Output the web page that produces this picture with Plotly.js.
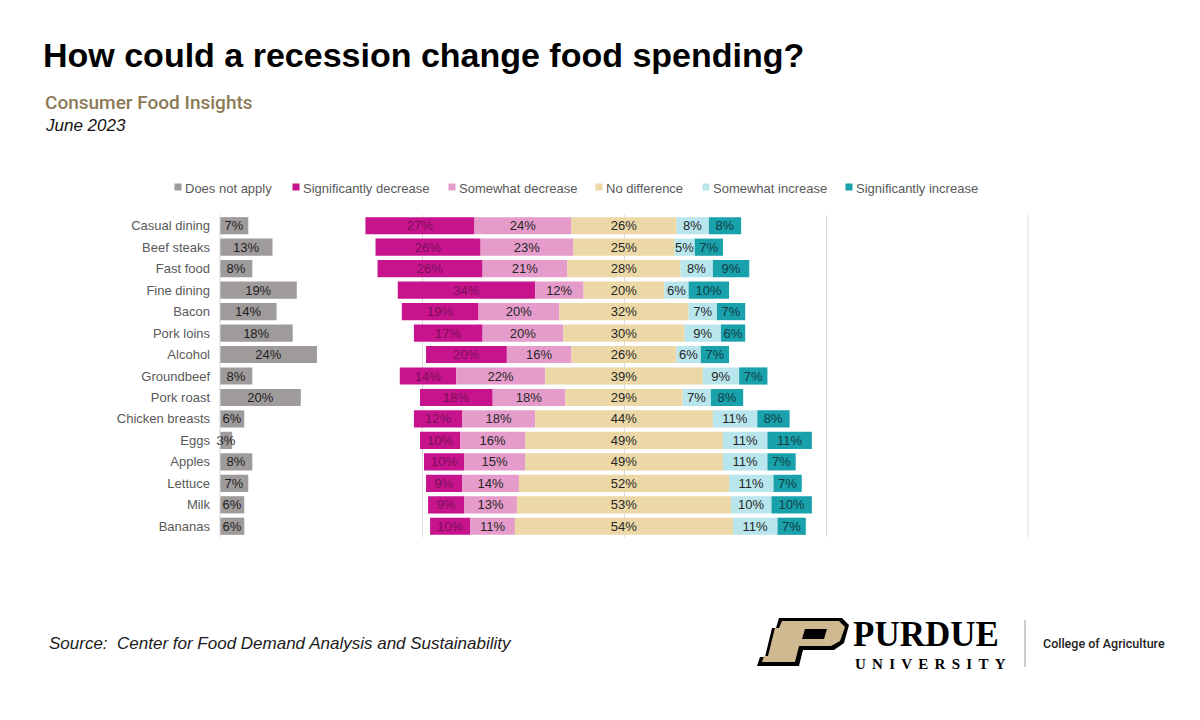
<!DOCTYPE html>
<html>
<head>
<meta charset="utf-8">
<script src="https://cdn.plot.ly/plotly-3.0.1.min.js"></script>
<style>html,body{margin:0;padding:0;background:#fff;}#chart{width:1200px;height:720px;}</style>
</head>
<body>
<div id="chart"></div>
<script>
// ---- data (percent of respondents) ----
const categories = ["Casual dining","Beef steaks","Fast food","Fine dining","Bacon","Pork loins","Alcohol","Groundbeef","Pork roast","Chicken breasts","Eggs","Apples","Lettuce","Milk","Bananas"];
const doesNotApply        = [7, 13, 8, 19, 14, 18, 24, 8, 20, 6, 3, 8, 7, 6, 6];
const sigDecrease         = [27, 26, 26, 34, 19, 17, 20, 14, 18, 12, 10, 10, 9, 9, 10];
const somewhatDecrease    = [24, 23, 21, 12, 20, 20, 16, 22, 18, 18, 16, 15, 14, 13, 11];
const noDifference        = [26, 25, 28, 20, 32, 30, 26, 39, 29, 44, 49, 49, 52, 53, 54];
const somewhatIncrease    = [8, 5, 8, 6, 7, 9, 6, 9, 7, 11, 11, 11, 11, 10, 11];
const sigIncrease         = [8, 7, 9, 10, 7, 6, 7, 7, 8, 8, 11, 7, 7, 10, 7];
const seriesNames = ["Does not apply","Significantly decrease","Somewhat decrease","No difference","Somewhat increase","Significantly increase"];
const seriesColors = ['#9f9b9b', '#c7148d', '#e59ccb', '#ebd8a6', '#b9e5ec', '#19a1ac'];
const labelColors  = ['#1e1e1e', '#7a0f58', '#262626', '#262626', '#262626', '#143c42'];

// ---- layout helpers ----
const W = 1200, H = 720, ML = 220, MR = 172, MT = 215, MB = 183;
const PW = W - ML - MR, PH = H - MT - MB;
const px = x => (x - ML) / PW;
const py = y => (H - MB - y) / PH;
function pathFrom(pts) {
  return 'M ' + pts.map(p => px(p[0]).toFixed(5) + ',' + py(p[1]).toFixed(5)).join(' L ') + ' Z';
}

const pct = arr => arr.map(v => v + '%');
const FONT = 'Liberation Sans, Arial, sans-serif';
const SERIF = 'Liberation Serif, DejaVu Serif, serif';

// diverging bases around the middle of "No difference"
const baseSD  = categories.map((c, i) => -(sigDecrease[i] + somewhatDecrease[i] + noDifference[i] / 2));
const baseSWD = categories.map((c, i) => -(somewhatDecrease[i] + noDifference[i] / 2));
const baseND  = categories.map((c, i) => -noDifference[i] / 2);
const baseSWI = categories.map((c, i) => noDifference[i] / 2);
const baseSI  = categories.map((c, i) => noDifference[i] / 2 + somewhatIncrease[i]);
const baseDNA = categories.map(() => -100);

function barTrace(k, vals, base) {
  return {
    type: 'bar', orientation: 'h', name: seriesNames[k],
    y: categories, x: vals, base: base,
    marker: { color: seriesColors[k], line: { width: 0 } },
    text: pct(vals), textposition: 'inside', insidetextanchor: 'middle',
    textangle: 0, constraintext: 'none', cliponaxis: false,
    textfont: { family: FONT, size: 13, color: labelColors[k] },
    hoverinfo: 'skip', showlegend: false
  };
}

const traces = [
  barTrace(0, doesNotApply, baseDNA),
  barTrace(1, sigDecrease, baseSD),
  barTrace(2, somewhatDecrease, baseSWD),
  barTrace(3, noDifference, baseND),
  barTrace(4, somewhatIncrease, baseSWI),
  barTrace(5, sigIncrease, baseSI)
];

// legend drawn by hand to match the reference's compact spacing
const legendMarkerX = [178, 296, 452, 599, 706, 849];
const legendY = 188;
const legendShapes = seriesNames.map((n, k) => ({
  type: 'rect', xref: 'paper', yref: 'paper',
  x0: px(legendMarkerX[k] - 3.5), x1: px(legendMarkerX[k] + 3.5),
  y0: py(legendY + 2.5), y1: py(legendY - 4.5),
  fillcolor: seriesColors[k], line: { width: 0 }
}));
const legendAnnots = seriesNames.map((n, k) => ({
  text: n, xref: 'paper', yref: 'paper', x: px(legendMarkerX[k] + 5), y: py(legendY),
  xanchor: 'left', yanchor: 'middle', showarrow: false,
  font: { family: FONT, size: 13, color: '#595959' }
}));

// Purdue "P" logo drawn as shapes (decoration)
const pOuter = [[779,618],[842,618],[849,625],[844,643],[834,650],[803,650],[799,666],[757,666],[760,657],[765,657],[772,628],[776,628]];
const pGold  = [[782,621],[839,621],[845,627],[840,641],[831,646],[799,646],[795,662],[762,662],[764,656],[768,656],[775,628],[779,628]];
const pHole  = [[805,629],[827,629],[824,639],[802,639]];
const sp = '\u2004\u200A';

const layout = {
  width: W, height: H, autosize: false,
  paper_bgcolor: '#ffffff', plot_bgcolor: '#ffffff',
  margin: { l: ML, r: MR, t: MT, b: MB, pad: 0 },
  barmode: 'overlay', bargap: 0.2,
  font: { family: FONT, size: 13, color: '#595959' },
  showlegend: false,
  title: {
    text: 'How could a recession change food spending?',
    font: { family: FONT, size: 34, color: '#000000', weight: 700 },
    xref: 'container', yref: 'container',
    x: 43 / W, xanchor: 'left', y: 1 - 55 / H, yanchor: 'middle'
  },
  xaxis: {
    range: [-100, 100], dtick: 50, tick0: 0,
    showgrid: true, gridcolor: '#d9d9d9', gridwidth: 1,
    zeroline: false, showticklabels: false, ticks: '', fixedrange: true
  },
  yaxis: {
    type: 'category', autorange: 'reversed',
    showgrid: false, zeroline: false, showline: false,
    ticks: '', ticklabelstandoff: 9,
    tickfont: { family: FONT, size: 13, color: '#595959' }, fixedrange: true
  },
  annotations: legendAnnots.concat([
    { text: 'Consumer Food Insights', xref: 'paper', yref: 'paper', x: px(43), y: py(102),
      xanchor: 'left', yanchor: 'middle', showarrow: false,
      font: { family: 'Roboto, Liberation Sans, Arial, sans-serif', size: 19, color: '#8b7a55', weight: 500 } },
    { text: 'June 2023', xref: 'paper', yref: 'paper', x: px(43), y: py(125),
      xanchor: 'left', yanchor: 'middle', showarrow: false,
      font: { family: FONT, size: 17, color: '#111111', style: 'italic' } },
    { text: 'Source:\u00a0 Center for Food Demand Analysis and Sustainability', xref: 'paper', yref: 'paper',
      x: px(47), y: py(643), xanchor: 'left', yanchor: 'middle', showarrow: false,
      font: { family: FONT, size: 17, color: '#1a1a1a', style: 'italic' } },
    { text: 'PURDUE', xref: 'paper', yref: 'paper', x: px(852), y: py(634.5),
      xanchor: 'left', yanchor: 'middle', showarrow: false, borderpad: 0,
      font: { family: SERIF, size: 35, color: '#000000', weight: 700 } },
    { text: ['U','N','I','V','E','R','S','I','T','Y'].join(sp), xref: 'paper', yref: 'paper', x: px(854), y: py(663.5),
      xanchor: 'left', yanchor: 'middle', showarrow: false, borderpad: 0,
      font: { family: SERIF, size: 15, color: '#000000', weight: 700 } },
    { text: 'College of Agriculture', xref: 'paper', yref: 'paper', x: px(1041), y: py(643),
      xanchor: 'left', yanchor: 'middle', showarrow: false,
      font: { family: 'Roboto, Liberation Sans, Arial, sans-serif', size: 12.5, color: '#222222', weight: 500 } }
  ]),
  shapes: legendShapes.concat([
    { type: 'line', xref: 'paper', yref: 'paper', x0: 0, x1: 0, y0: 0, y1: 1,
      line: { color: '#d9d9d9', width: 1 } },
    { type: 'line', xref: 'paper', yref: 'paper', x0: 1, x1: 1, y0: 0, y1: 1,
      line: { color: '#d9d9d9', width: 1 } },
    { type: 'line', xref: 'paper', yref: 'paper', x0: px(1025), x1: px(1025), y0: py(620), y1: py(667),
      line: { color: '#9a9a9a', width: 1 } },
    { type: 'path', xref: 'paper', yref: 'paper', path: pathFrom(pOuter), fillcolor: '#000000', line: { width: 0 } },
    { type: 'path', xref: 'paper', yref: 'paper', path: pathFrom(pGold), fillcolor: '#cfb991', line: { width: 0 } },
    { type: 'path', xref: 'paper', yref: 'paper', path: pathFrom(pHole), fillcolor: '#000000', line: { width: 0 } }
  ])
};

Plotly.newPlot('chart', traces, layout, { displayModeBar: false, staticPlot: true });
</script>
</body>
</html>
